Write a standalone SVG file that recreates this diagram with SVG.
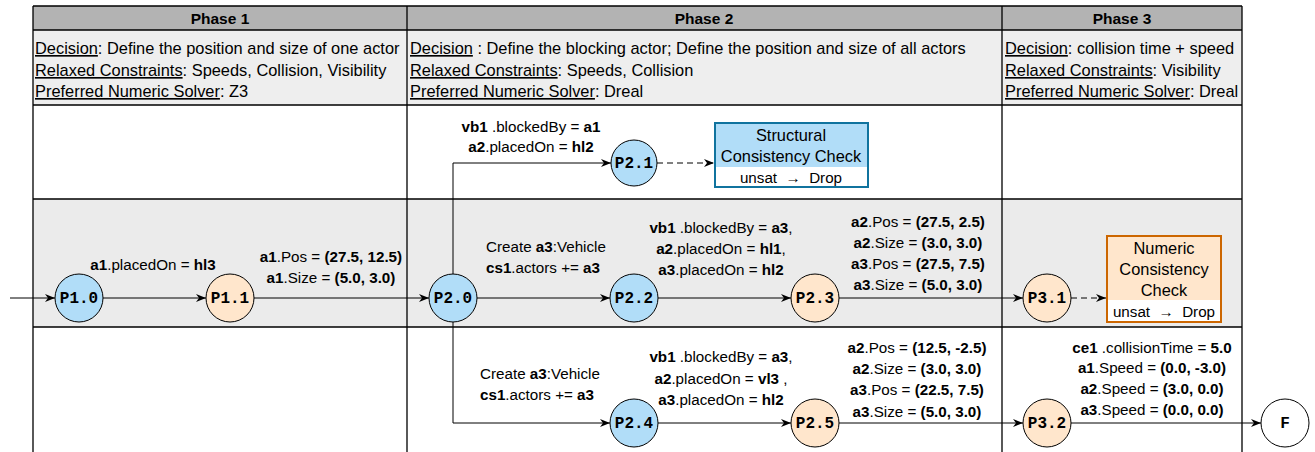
<svg xmlns="http://www.w3.org/2000/svg" width="1315" height="452" viewBox="0 0 1315 452">
<style>
text{font-family:"Liberation Sans",Arial,sans-serif;fill:#000}
.hd{font-size:15.5px;font-weight:bold;text-anchor:middle}
.info{font-size:16.4px}
.u{text-decoration:underline}
.lb{font-size:15.2px}
.c{text-anchor:middle}
.b{font-weight:bold}
.nl{font-family:"Liberation Mono","Courier New",monospace;font-weight:bold;font-size:16px;text-anchor:middle}
.grid{stroke:#000;stroke-width:1.3;fill:none}
.blue{fill:#b1ddf8;stroke:#000;stroke-width:1}
.peach{fill:#ffe6cc;stroke:#000;stroke-width:1}
.white{fill:#fff;stroke:#000;stroke-width:1}
.edge{stroke:#000;stroke-width:1;fill:none;marker-end:url(#arr)}
.dash{stroke-dasharray:6 4}
.bx{font-size:16.4px;text-anchor:middle}
.us{font-size:15.2px;text-anchor:middle}
</style>
<defs>
<marker id="arr" viewBox="0 0 10 8" refX="10" refY="4" markerWidth="10" markerHeight="8" markerUnits="userSpaceOnUse" orient="auto">
<path d="M0,0 L10,4 L0,8 L3,4 z" fill="#000"/>
</marker>
</defs>
<g id="table">
<rect x="33" y="6" width="1209" height="24" fill="#b3b3b3"/>
<rect x="33" y="30" width="1209" height="75" fill="#eeeeee"/>
<rect x="33" y="105" width="1209" height="94" fill="#ffffff"/>
<rect x="33" y="199" width="1209" height="128" fill="#ebebeb"/>
<rect x="33" y="327" width="1209" height="125" fill="#ffffff"/>
<path class="grid" d="M33,6 H1242 M33,30 H1242 M33,105 H1242 M33,199 H1242 M33,327 H1242 M33,6 V452 M407,6 V452 M1002,6 V452 M1242,6 V452"/>
<text class="hd" x="220" y="24">Phase 1</text>
<text class="hd" x="704" y="24">Phase 2</text>
<text class="hd" x="1122" y="24">Phase 3</text>
<text class="info" x="35" y="54"><tspan class="u">Decision</tspan>: Define the position and size of one actor</text>
<text class="info" x="35" y="76"><tspan class="u">Relaxed Constraints</tspan>: Speeds, Collision, Visibility</text>
<text class="info" x="35" y="97"><tspan class="u">Preferred Numeric Solver</tspan>: Z3</text>
<text class="info" x="410" y="54"><tspan class="u">Decision</tspan> : Define the blocking actor; Define the position and size of all actors</text>
<text class="info" x="410" y="76"><tspan class="u">Relaxed Constraints</tspan>: Speeds, Collision</text>
<text class="info" x="410" y="97"><tspan class="u">Preferred Numeric Solver</tspan>: Dreal</text>
<text class="info" x="1005" y="54"><tspan class="u">Decision</tspan>: collision time + speed</text>
<text class="info" x="1005" y="76"><tspan class="u">Relaxed Constraints</tspan>: Visibility</text>
<text class="info" x="1005" y="97"><tspan class="u">Preferred Numeric Solver</tspan>: Dreal</text>
</g>
<g id="connectors">
<path class="edge" d="M10,298 H55"/>
<path class="edge" d="M103,298 H206"/>
<path class="edge" d="M254,298 H429"/>
<path class="edge" d="M477,298 H610"/>
<path class="edge" d="M453,274 V163 H611"/>
<path class="edge" d="M453,322 V423 H610"/>
<path class="edge dash" d="M657,163 H714"/>
<path class="edge" d="M658,298 H791"/>
<path class="edge" d="M839,298 H1023"/>
<path class="edge dash" d="M1071,298 H1106"/>
<path class="edge" d="M658,423 H791"/>
<path class="edge" d="M839,423 H1023"/>
<path class="edge" d="M1071,423 H1261"/>
</g>
<g id="labels">
<text class="lb c" x="153" y="270"><tspan class="b">a1</tspan>.placedOn = <tspan class="b">hl3</tspan></text>
<text class="lb c" x="331" y="262"><tspan class="b">a1</tspan>.Pos = <tspan class="b">(27.5, 12.5)</tspan></text>
<text class="lb c" x="331" y="283"><tspan class="b">a1</tspan>.Size = <tspan class="b">(5.0, 3.0)</tspan></text>
<text class="lb c" x="531" y="132"><tspan class="b">vb1</tspan> .blockedBy = <tspan class="b">a1</tspan></text>
<text class="lb c" x="531" y="152"><tspan class="b">a2</tspan>.placedOn = <tspan class="b">hl2</tspan></text>
<text class="lb" x="486" y="252">Create <tspan class="b">a3</tspan>:Vehicle</text>
<text class="lb" x="486" y="273"><tspan class="b">cs1</tspan>.actors += <tspan class="b">a3</tspan></text>
<text class="lb c" x="721" y="233"><tspan class="b">vb1</tspan> .blockedBy = <tspan class="b">a3</tspan>,</text>
<text class="lb c" x="721" y="254"><tspan class="b">a2</tspan>.placedOn = <tspan class="b">hl1</tspan>,</text>
<text class="lb c" x="721" y="275"><tspan class="b">a3</tspan>.placedOn = <tspan class="b">hl2</tspan></text>
<text class="lb c" x="918" y="227"><tspan class="b">a2</tspan>.Pos = <tspan class="b">(27.5, 2.5)</tspan></text>
<text class="lb c" x="918" y="248"><tspan class="b">a2</tspan>.Size = <tspan class="b">(3.0, 3.0)</tspan></text>
<text class="lb c" x="918" y="269"><tspan class="b">a3</tspan>.Pos = <tspan class="b">(27.5, 7.5)</tspan></text>
<text class="lb c" x="918" y="290"><tspan class="b">a3</tspan>.Size = <tspan class="b">(5.0, 3.0)</tspan></text>
<text class="lb" x="480" y="379">Create <tspan class="b">a3</tspan>:Vehicle</text>
<text class="lb" x="480" y="400"><tspan class="b">cs1</tspan>.actors += <tspan class="b">a3</tspan></text>
<text class="lb c" x="721" y="362"><tspan class="b">vb1</tspan> .blockedBy = <tspan class="b">a3</tspan>,</text>
<text class="lb c" x="721" y="384"><tspan class="b">a2</tspan>.placedOn = <tspan class="b">vl3</tspan> ,</text>
<text class="lb c" x="721" y="405"><tspan class="b">a3</tspan>.placedOn = <tspan class="b">hl2</tspan></text>
<text class="lb c" x="917" y="353"><tspan class="b">a2</tspan>.Pos = <tspan class="b">(12.5, -2.5)</tspan></text>
<text class="lb c" x="917" y="374"><tspan class="b">a2</tspan>.Size = <tspan class="b">(3.0, 3.0)</tspan></text>
<text class="lb c" x="917" y="395"><tspan class="b">a3</tspan>.Pos = <tspan class="b">(22.5, 7.5)</tspan></text>
<text class="lb c" x="917" y="417"><tspan class="b">a3</tspan>.Size = <tspan class="b">(5.0, 3.0)</tspan></text>
<text class="lb c" x="1152" y="353"><tspan class="b">ce1</tspan> .collisionTime = <tspan class="b">5.0</tspan></text>
<text class="lb c" x="1152" y="373"><tspan class="b">a1</tspan>.Speed = <tspan class="b">(0.0, -3.0)</tspan></text>
<text class="lb c" x="1152" y="394"><tspan class="b">a2</tspan>.Speed = <tspan class="b">(3.0, 0.0)</tspan></text>
<text class="lb c" x="1152" y="415"><tspan class="b">a3</tspan>.Speed = <tspan class="b">(0.0, 0.0)</tspan></text>
</g>
<g id="P1.0"><circle class="blue" cx="79" cy="298" r="24"/><text class="nl" x="79" y="303">P1.0</text></g>
<g id="P1.1"><circle class="peach" cx="230" cy="298" r="24"/><text class="nl" x="230" y="303">P1.1</text></g>
<g id="P2.0"><circle class="blue" cx="453" cy="298" r="24"/><text class="nl" x="453" y="303">P2.0</text></g>
<g id="P2.1"><circle class="blue" cx="634" cy="163" r="23"/><text class="nl" x="634" y="168">P2.1</text></g>
<g id="P2.2"><circle class="blue" cx="634" cy="298" r="24"/><text class="nl" x="634" y="303">P2.2</text></g>
<g id="P2.3"><circle class="peach" cx="815" cy="298" r="24"/><text class="nl" x="815" y="303">P2.3</text></g>
<g id="P3.1"><circle class="peach" cx="1047" cy="298" r="24"/><text class="nl" x="1047" y="303">P3.1</text></g>
<g id="P2.4"><circle class="blue" cx="634" cy="423" r="24"/><text class="nl" x="634" y="428">P2.4</text></g>
<g id="P2.5"><circle class="peach" cx="815" cy="423" r="24"/><text class="nl" x="815" y="428">P2.5</text></g>
<g id="P3.2"><circle class="peach" cx="1047" cy="423" r="24"/><text class="nl" x="1047" y="428">P3.2</text></g>
<g id="F"><circle class="white" cx="1285" cy="423" r="24"/><text class="nl" x="1285" y="428">F</text></g>
<g id="structural-check">
<rect x="715" y="123" width="153" height="64" fill="#b1ddf8"/>
<rect x="715" y="167" width="153" height="20" fill="#ffffff"/>
<rect x="715" y="123" width="153" height="64" fill="none" stroke="#10739e" stroke-width="2"/>
<text class="bx" x="791" y="141">Structural</text>
<text class="bx" x="791" y="162">Consistency Check</text>
<text class="us" x="791" y="183">unsat&#160; →&#160; Drop</text>
</g>
<g id="numeric-check">
<rect x="1107" y="236" width="114" height="86" fill="#ffe6cc"/>
<rect x="1107" y="300" width="114" height="22" fill="#ffffff"/>
<rect x="1107" y="236" width="114" height="86" fill="none" stroke="#cc6600" stroke-width="2"/>
<text class="bx" x="1164" y="254">Numeric</text>
<text class="bx" x="1164" y="275">Consistency</text>
<text class="bx" x="1164" y="296">Check</text>
<text class="us" x="1164" y="317">unsat&#160; →&#160; Drop</text>
</g>
</svg>
